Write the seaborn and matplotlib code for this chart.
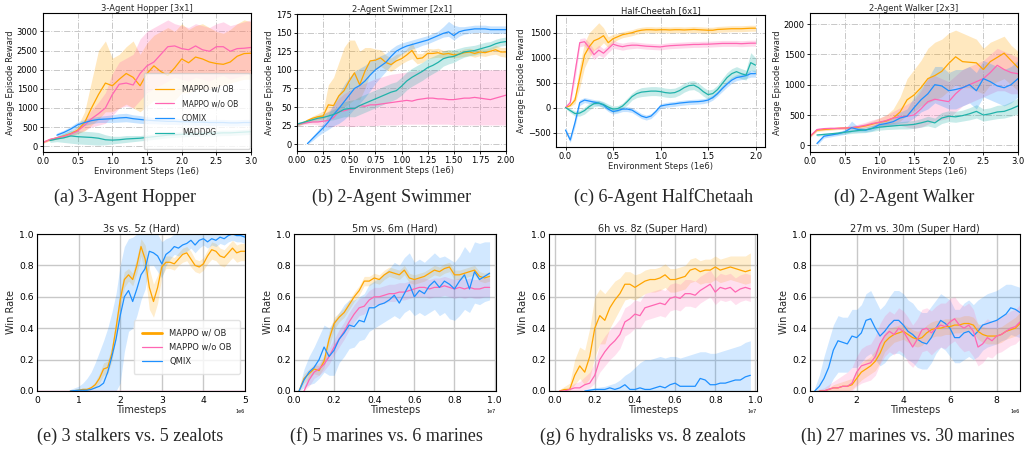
import numpy as np
import pandas as pd
import matplotlib
matplotlib.use("Agg")
import matplotlib.pyplot as plt
import seaborn as sns

nan = np.nan

ORANGE = "#FFA500"
PINK = "#FF66B3"
BLUE = "#1E90FF"
TEAL = "#20B2AA"

# ---------------- top row (MuJoCo), steps in 1e6 ----------------
hop_x = np.linspace(0, 3.0, 31)
hop_ob = [100, 170, 220, 270, 330, 420, 620, 1000, 1350, 1650, 1580, 1750, 1900, 1800, 1580, 1900, 2100, 1950, 1850, 2050, 2280, 2180, 2330, 2280, 2200, 2160, 2140, 2200, 2350, 2420, 2430]
hop_ob_lo = [80, 140, 190, 230, 280, 330, 400, 550, 700, 900, 900, 1000, 1100, 1000, 900, 1050, 1200, 1150, 1100, 1200, 1400, 1400, 1500, 1500, 1500, 1550, 1600, 1650, 1700, 1750, 1750]
hop_ob_hi = [120, 200, 250, 310, 380, 520, 900, 1700, 2500, 2750, 2300, 2400, 2600, 2750, 2400, 2700, 2900, 3000, 3100, 3000, 3200, 3050, 3150, 3200, 3100, 3000, 2950, 3050, 3200, 3300, 3250]
hop_wo = [100, 180, 220, 260, 320, 400, 550, 720, 850, 1000, 1350, 1620, 1650, 1600, 1900, 2100, 2200, 2400, 2600, 2620, 2550, 2520, 2620, 2520, 2480, 2600, 2600, 2480, 2550, 2560, 2580]
hop_wo_lo = [80, 150, 190, 220, 270, 330, 420, 500, 550, 600, 800, 1000, 1050, 1000, 1200, 1400, 1500, 1600, 1700, 1800, 1750, 1700, 1800, 1750, 1700, 1800, 1850, 1750, 1800, 1850, 1900]
hop_wo_hi = [120, 210, 250, 300, 370, 480, 700, 950, 1150, 1400, 1900, 2200, 2300, 2400, 2800, 3000, 3100, 3200, 3300, 3200, 3150, 3100, 3200, 3150, 3100, 3200, 3250, 3150, 3200, 3250, 3300]
hop_comix = [nan, nan, 290, 360, 450, 560, 620, 670, 700, 710, 720, 740, 750, 720, 700, 680, 670, 660, 650, 650, 640, 640, 630, 630, 620, 620, 620, 610, 610, 620, 620]
hop_comix_lo = [nan, nan, 230, 300, 380, 480, 540, 590, 620, 620, 620, 630, 640, 620, 600, 590, 590, 580, 570, 570, 560, 560, 550, 550, 540, 540, 540, 530, 530, 540, 540]
hop_comix_hi = [nan, nan, 350, 420, 520, 640, 700, 750, 780, 800, 820, 850, 860, 820, 800, 770, 750, 740, 730, 730, 720, 720, 710, 710, 700, 700, 700, 690, 690, 700, 700]
hop_maddpg = [nan, 150, 190, 220, 270, 250, 240, 230, 210, 170, 160, 170, 190, 200, 210, 230, 250, 270, 290, 300, 310, 320, 330, 330, 340, 340, 350, 350, 360, 370, 380]
hop_maddpg_lo = [nan, 100, 120, 100, 80, 60, 50, 40, 30, 40, 60, 80, 100, 120, 140, 160, 180, 200, 220, 230, 240, 250, 260, 260, 270, 270, 280, 280, 290, 300, 310]
hop_maddpg_hi = [nan, 200, 260, 340, 420, 400, 390, 380, 360, 300, 260, 260, 280, 280, 280, 300, 320, 340, 360, 370, 380, 390, 400, 400, 410, 410, 420, 420, 430, 440, 450]

swim_x = np.linspace(0, 2.0, 41)
swim_ob = [27, 28, 32, 35, 37, 38, 53, 52, 65, 72, 85, 96, 80, 98, 112, 113, 116, 110, 107, 112, 115, 120, 126, 115, 116, 122, 122, 123, 121, 122, 120, 121, 123, 124, 122, 124, 123, 125, 127, 124, 124]
swim_ob_lo = [25, 27, 30, 32, 33, 34, 38, 40, 45, 50, 55, 60, 60, 75, 95, 100, 105, 100, 98, 103, 108, 112, 115, 108, 110, 115, 116, 117, 116, 117, 116, 117, 118, 119, 117, 119, 118, 120, 121, 118, 117]
swim_ob_hi = [29, 30, 34, 38, 41, 45, 80, 90, 110, 130, 140, 140, 125, 130, 130, 128, 127, 120, 116, 121, 122, 128, 137, 122, 122, 129, 128, 129, 126, 127, 124, 125, 128, 129, 127, 129, 128, 130, 133, 130, 130]
swim_wo = [27, 28, 29, 30, 30, 31, 32, 36, 44, 45, 47, 48, 52, 51, 53, 53, 54, 55, 56, 57, 58, 59, 58, 60, 61, 62, 62, 61, 61, 60, 60, 61, 62, 62, 63, 62, 61, 60, 62, 64, 66]
swim_wo_lo = [25, 26, 27, 27, 26, 24, 23, 24, 25, 25, 24, 24, 25, 25, 25, 25, 26, 26, 26, 26, 27, 27, 27, 27, 27, 27, 27, 27, 27, 27, 26, 26, 26, 26, 26, 26, 26, 26, 26, 26, 26]
swim_wo_hi = [29, 31, 32, 34, 36, 40, 45, 52, 62, 68, 72, 75, 80, 82, 85, 88, 90, 92, 94, 95, 96, 97, 98, 99, 100, 100, 100, 100, 100, 100, 100, 100, 100, 100, 100, 100, 100, 100, 100, 100, 100]
swim_comix = [nan, nan, 1, 8, 15, 22, 30, 40, 48, 57, 66, 75, 79, 85, 93, 100, 105, 110, 118, 125, 129, 132, 134, 136, 138, 140, 143, 146, 149, 151, 146, 151, 153, 154, 155, 155, 155, 154, 154, 154, 154]
swim_comix_lo = [nan, nan, 0, 5, 11, 16, 20, 25, 28, 33, 40, 48, 55, 63, 72, 82, 90, 98, 106, 115, 121, 125, 128, 130, 133, 135, 138, 141, 144, 145, 140, 145, 148, 149, 150, 150, 150, 149, 149, 149, 149]
swim_comix_hi = [nan, nan, 2, 11, 19, 28, 40, 55, 68, 80, 90, 98, 102, 106, 112, 116, 119, 122, 128, 133, 136, 138, 140, 142, 144, 146, 149, 152, 158, 165, 160, 158, 158, 159, 160, 160, 160, 159, 159, 159, 159]
swim_maddpg = [27, 29, 31, 33, 35, 36, 38, 40, 43, 47, 48, 48, 52, 55, 58, 61, 64, 67, 70, 72, 78, 85, 90, 94, 98, 103, 106, 110, 115, 117, 118, 121, 124, 125, 126, 128, 130, 132, 135, 137, 138]
swim_maddpg_lo = [25, 27, 29, 30, 31, 31, 32, 33, 35, 37, 37, 37, 40, 43, 46, 49, 52, 55, 58, 61, 66, 73, 78, 82, 86, 91, 95, 99, 105, 108, 110, 114, 117, 119, 120, 122, 124, 127, 130, 132, 133]
swim_maddpg_hi = [29, 31, 33, 36, 39, 41, 44, 47, 51, 57, 59, 60, 64, 67, 70, 73, 76, 79, 82, 84, 90, 97, 102, 106, 110, 115, 118, 121, 125, 127, 127, 129, 131, 132, 133, 135, 137, 138, 141, 143, 144]

chee_x = np.linspace(0, 2.0, 41)
chee_ob = [0, 40, 150, 600, 1050, 1220, 1340, 1380, 1440, 1300, 1380, 1420, 1460, 1480, 1500, 1530, 1550, 1560, 1560, 1555, 1560, 1560, 1555, 1560, 1560, 1555, 1560, 1565, 1560, 1555, 1550, 1550, 1565, 1570, 1575, 1580, 1580, 1580, 1585, 1590, 1590]
chee_ob_lo = [0, 20, 80, 400, 800, 1000, 1150, 1200, 1300, 1200, 1300, 1360, 1400, 1420, 1440, 1470, 1490, 1500, 1500, 1495, 1500, 1500, 1495, 1500, 1500, 1495, 1500, 1505, 1500, 1495, 1490, 1490, 1505, 1510, 1515, 1520, 1520, 1520, 1525, 1530, 1530]
chee_ob_hi = [0, 60, 250, 850, 1300, 1500, 1600, 1700, 1600, 1420, 1470, 1490, 1520, 1540, 1560, 1590, 1610, 1620, 1620, 1615, 1620, 1620, 1615, 1620, 1620, 1615, 1620, 1625, 1620, 1615, 1610, 1610, 1625, 1630, 1635, 1640, 1640, 1640, 1645, 1650, 1650]
chee_wo = [0, 100, 700, 1300, 1320, 1200, 1060, 1150, 1090, 1180, 1270, 1240, 1220, 1240, 1250, 1250, 1240, 1230, 1225, 1220, 1215, 1230, 1240, 1245, 1250, 1255, 1260, 1265, 1265, 1270, 1270, 1275, 1280, 1285, 1285, 1285, 1285, 1280, 1285, 1290, 1290]
chee_wo_lo = [0, 60, 550, 1220, 1240, 1100, 960, 1050, 1000, 1100, 1190, 1170, 1150, 1170, 1180, 1190, 1180, 1170, 1165, 1160, 1155, 1170, 1180, 1185, 1190, 1195, 1200, 1205, 1205, 1210, 1210, 1215, 1220, 1225, 1225, 1225, 1225, 1220, 1225, 1230, 1230]
chee_wo_hi = [0, 140, 850, 1380, 1400, 1300, 1160, 1250, 1180, 1260, 1350, 1310, 1290, 1310, 1320, 1310, 1300, 1290, 1285, 1280, 1275, 1290, 1300, 1305, 1310, 1315, 1320, 1325, 1325, 1330, 1330, 1335, 1340, 1345, 1345, 1345, 1345, 1340, 1345, 1350, 1350]
chee_comix = [-450, -650, -300, 100, 150, 130, 110, 90, 50, -30, -80, -60, -30, -30, -50, -110, -170, -200, -170, -80, 30, 50, 65, 75, 90, 100, 110, 115, 120, 130, 150, 200, 280, 380, 470, 550, 600, 620, 640, 680, 680]
chee_comix_lo = [-500, -700, -380, 40, 100, 80, 60, 40, 0, -80, -130, -110, -80, -80, -100, -160, -220, -250, -220, -130, -20, 0, 15, 25, 40, 50, 60, 65, 70, 80, 100, 150, 230, 320, 410, 490, 540, 560, 580, 610, 610]
chee_comix_hi = [-400, -600, -220, 160, 200, 180, 160, 140, 100, 20, -30, -10, 20, 20, 0, -60, -120, -150, -120, -30, 80, 100, 115, 125, 140, 150, 160, 165, 170, 180, 200, 250, 330, 440, 530, 610, 660, 680, 700, 750, 750]
chee_maddpg = [0, -60, -120, -110, -60, 20, 80, 90, 60, 10, -30, -20, 30, 120, 220, 280, 310, 320, 330, 330, 320, 300, 290, 300, 340, 400, 440, 450, 400, 320, 260, 280, 360, 480, 600, 680, 720, 680, 650, 900, 850]
chee_maddpg_lo = [-20, -100, -170, -170, -130, -50, 20, 30, 0, -50, -90, -80, -30, 50, 150, 200, 220, 230, 240, 240, 230, 210, 200, 210, 250, 310, 350, 360, 310, 230, 170, 190, 270, 380, 500, 580, 620, 580, 550, 750, 700]
chee_maddpg_hi = [20, -20, -70, -50, 10, 90, 140, 150, 120, 70, 30, 40, 90, 190, 290, 360, 400, 410, 420, 420, 410, 390, 380, 390, 430, 490, 530, 540, 490, 410, 350, 370, 450, 580, 700, 780, 820, 780, 750, 1100, 1000]

walk_x = np.linspace(0, 3.0, 31)
walk_ob = [150, 250, 260, 270, 280, 285, 290, 300, 320, 350, 380, 400, 450, 550, 750, 830, 950, 1100, 1150, 1220, 1350, 1460, 1380, 1370, 1360, 1250, 1380, 1450, 1520, 1400, 1280]
walk_ob_lo = [130, 230, 240, 250, 260, 265, 270, 275, 290, 310, 330, 340, 360, 400, 500, 550, 650, 700, 750, 800, 900, 1000, 950, 950, 900, 850, 1000, 1050, 1100, 1000, 900]
walk_ob_hi = [170, 270, 280, 290, 300, 310, 315, 330, 360, 400, 450, 500, 600, 800, 1100, 1250, 1400, 1600, 1700, 1750, 1850, 1900, 1850, 1800, 1750, 1600, 1700, 1750, 1800, 1650, 1550]
walk_wo = [150, 260, 275, 280, 280, 285, 290, 310, 330, 360, 380, 410, 450, 470, 480, 500, 600, 720, 760, 740, 720, 850, 950, 1000, 1050, 1100, 1200, 1320, 1250, 1200, 1180]
walk_wo_lo = [130, 240, 255, 260, 260, 265, 270, 280, 290, 310, 320, 330, 340, 330, 300, 280, 300, 350, 400, 420, 450, 550, 650, 700, 750, 800, 850, 900, 900, 850, 850]
walk_wo_hi = [170, 280, 295, 300, 300, 310, 320, 350, 380, 420, 450, 500, 560, 620, 680, 750, 900, 1100, 1150, 1100, 1050, 1150, 1250, 1300, 1350, 1400, 1500, 1600, 1550, 1500, 1450]
walk_comix = [nan, 30, 150, 170, 190, 220, 290, 260, 250, 280, 340, 360, 390, 450, 480, 620, 750, 850, 1000, 980, 900, 920, 950, 1000, 900, 1100, 1050, 980, 950, 1000, 1100]
walk_comix_lo = [nan, 0, 120, 140, 160, 180, 220, 220, 220, 240, 290, 310, 330, 370, 380, 450, 550, 600, 700, 650, 600, 600, 650, 700, 600, 800, 750, 700, 650, 700, 800]
walk_comix_hi = [nan, 60, 180, 200, 220, 260, 400, 300, 280, 320, 390, 410, 450, 550, 600, 800, 950, 1100, 1300, 1300, 1200, 1250, 1250, 1300, 1200, 1400, 1350, 1300, 1250, 1300, 1400]
walk_maddpg = [nan, 170, 180, 190, 200, 215, 230, 245, 255, 280, 300, 310, 320, 330, 335, 345, 370, 400, 370, 450, 480, 470, 490, 520, 560, 500, 520, 550, 560, 600, 650]
walk_maddpg_lo = [nan, 150, 160, 170, 175, 185, 195, 205, 210, 230, 250, 260, 265, 270, 270, 280, 300, 320, 290, 360, 390, 380, 400, 420, 450, 400, 420, 440, 450, 480, 520]
walk_maddpg_hi = [nan, 190, 200, 210, 225, 245, 265, 285, 300, 330, 350, 360, 375, 390, 400, 410, 440, 480, 450, 540, 570, 560, 580, 620, 670, 600, 620, 660, 670, 720, 780]

# ---------------- bottom row (SMAC win rates) ----------------
# 3s vs 5z, steps in 1e6
s3z5_x = [0.0, 0.2, 0.4, 0.6, 0.8, 1.0, 1.1, 1.2, 1.3, 1.4, 1.5, 1.6, 1.7, 1.8, 1.9, 2.0, 2.1, 2.2, 2.3, 2.4, 2.5, 2.6, 2.7, 2.8, 2.9, 3.0, 3.1, 3.2, 3.3, 3.4, 3.5, 3.6, 3.7, 3.8, 3.9, 4.0, 4.1, 4.2, 4.3, 4.4, 4.5, 4.6, 4.7, 4.8, 4.9, 5.0]
s3z5_ob = [nan, nan, nan, nan, 0.0, 0.005, 0.01, 0.01, 0.02, 0.04, 0.08, 0.14, 0.15, 0.24, 0.40, 0.58, 0.71, 0.74, 0.71, 0.80, 0.92, 0.84, 0.66, 0.57, 0.66, 0.79, 0.82, 0.82, 0.81, 0.84, 0.87, 0.88, 0.84, 0.80, 0.79, 0.81, 0.86, 0.90, 0.89, 0.86, 0.85, 0.88, 0.91, 0.88, 0.89, 0.89]
s3z5_ob_lo = [nan, nan, nan, nan, 0.0, 0.0, 0.0, 0.0, 0.01, 0.02, 0.05, 0.10, 0.11, 0.19, 0.34, 0.52, 0.66, 0.70, 0.67, 0.75, 0.86, 0.74, 0.52, 0.47, 0.56, 0.73, 0.78, 0.78, 0.77, 0.80, 0.82, 0.83, 0.79, 0.76, 0.75, 0.77, 0.81, 0.84, 0.83, 0.80, 0.79, 0.82, 0.85, 0.82, 0.83, 0.83]
s3z5_ob_hi = [nan, nan, nan, nan, 0.0, 0.01, 0.02, 0.02, 0.03, 0.06, 0.11, 0.18, 0.19, 0.29, 0.46, 0.64, 0.76, 0.78, 0.75, 0.85, 0.97, 0.93, 0.78, 0.68, 0.74, 0.84, 0.86, 0.86, 0.85, 0.88, 0.91, 0.92, 0.89, 0.84, 0.83, 0.85, 0.90, 0.95, 0.94, 0.91, 0.90, 0.93, 0.96, 0.93, 0.94, 0.94]
s3z5_wo_x = [0.0, 5.0]
s3z5_wo = [0.0, 0.0]
s3z5_qmix = [nan, nan, nan, nan, 0.0, 0.005, 0.005, 0.005, 0.01, 0.02, 0.03, 0.05, 0.12, 0.22, 0.33, 0.48, 0.60, 0.64, 0.57, 0.65, 0.74, 0.78, 0.89, 0.88, 0.86, 0.81, 0.87, 0.89, 0.92, 0.91, 0.93, 0.94, 0.96, 0.93, 0.96, 0.97, 0.95, 0.97, 0.96, 0.98, 0.97, 0.99, 1.0, 0.99, 0.99, 0.98]
s3z5_qmix_lo = [nan, nan, nan, nan, 0.0, 0.0, 0.0, 0.0, 0.0, 0.0, 0.0, 0.0, 0.0, 0.0, 0.0, 0.05, 0.25, 0.38, 0.40, 0.48, 0.58, 0.65, 0.80, 0.80, 0.76, 0.72, 0.80, 0.84, 0.87, 0.86, 0.88, 0.89, 0.91, 0.88, 0.91, 0.93, 0.91, 0.93, 0.92, 0.94, 0.93, 0.95, 0.96, 0.95, 0.95, 0.94]
s3z5_qmix_hi = [nan, nan, nan, nan, 0.01, 0.03, 0.05, 0.08, 0.12, 0.18, 0.25, 0.32, 0.40, 0.50, 0.62, 0.80, 0.92, 0.97, 0.98, 1.0, 1.0, 1.0, 1.0, 1.0, 1.0, 0.95, 0.97, 0.98, 1.0, 1.0, 1.0, 1.0, 1.0, 1.0, 1.0, 1.0, 1.0, 1.0, 1.0, 1.0, 1.0, 1.0, 1.0, 1.0, 1.0, 1.0]

# 5m vs 6m and 6h vs 8z, steps in 1e7
m5m6_x = np.linspace(0, 0.975, 40)
m5m6_ob = [nan, 0.0, 0.08, 0.11, 0.14, 0.13, 0.19, 0.33, 0.43, 0.47, 0.50, 0.55, 0.60, 0.64, 0.70, 0.70, 0.72, 0.71, 0.74, 0.76, 0.75, 0.74, 0.77, 0.72, 0.71, 0.72, 0.73, 0.75, 0.77, 0.76, 0.78, 0.79, 0.74, 0.74, 0.75, 0.76, 0.77, 0.73, 0.72, 0.73]
m5m6_ob_lo = [nan, 0.0, 0.05, 0.08, 0.11, 0.10, 0.15, 0.28, 0.39, 0.44, 0.47, 0.52, 0.57, 0.61, 0.67, 0.67, 0.69, 0.68, 0.71, 0.73, 0.72, 0.71, 0.74, 0.69, 0.68, 0.69, 0.70, 0.72, 0.74, 0.73, 0.75, 0.76, 0.71, 0.71, 0.72, 0.73, 0.74, 0.70, 0.69, 0.70]
m5m6_ob_hi = [nan, 0.01, 0.11, 0.14, 0.17, 0.16, 0.23, 0.38, 0.47, 0.50, 0.53, 0.58, 0.63, 0.67, 0.73, 0.73, 0.75, 0.74, 0.77, 0.79, 0.78, 0.77, 0.80, 0.75, 0.74, 0.75, 0.76, 0.78, 0.80, 0.79, 0.81, 0.82, 0.77, 0.77, 0.78, 0.79, 0.80, 0.76, 0.75, 0.76]
m5m6_wo = [nan, nan, 0.0, 0.07, 0.12, 0.14, 0.17, 0.22, 0.28, 0.33, 0.38, 0.44, 0.49, 0.53, 0.54, 0.58, 0.60, 0.60, 0.61, 0.62, 0.62, 0.63, 0.63, 0.64, 0.65, 0.66, 0.66, 0.65, 0.66, 0.66, 0.67, 0.66, 0.65, 0.66, 0.65, 0.66, 0.65, 0.65, 0.66, 0.66]
m5m6_wo_lo = [nan, nan, 0.0, 0.03, 0.08, 0.10, 0.13, 0.17, 0.23, 0.28, 0.33, 0.39, 0.44, 0.48, 0.49, 0.53, 0.55, 0.55, 0.56, 0.57, 0.57, 0.58, 0.58, 0.59, 0.60, 0.60, 0.60, 0.59, 0.60, 0.60, 0.61, 0.60, 0.59, 0.60, 0.59, 0.60, 0.59, 0.59, 0.60, 0.60]
m5m6_wo_hi = [nan, nan, 0.03, 0.11, 0.16, 0.18, 0.21, 0.27, 0.33, 0.39, 0.44, 0.50, 0.55, 0.59, 0.60, 0.64, 0.66, 0.66, 0.67, 0.68, 0.68, 0.69, 0.69, 0.70, 0.71, 0.72, 0.72, 0.71, 0.72, 0.72, 0.73, 0.72, 0.71, 0.72, 0.71, 0.72, 0.71, 0.71, 0.72, 0.72]
m5m6_qmix = [nan, 0.0, 0.07, 0.12, 0.15, 0.20, 0.28, 0.22, 0.26, 0.33, 0.37, 0.42, 0.41, 0.45, 0.44, 0.53, 0.53, 0.55, 0.56, 0.58, 0.61, 0.56, 0.62, 0.68, 0.60, 0.64, 0.62, 0.67, 0.70, 0.66, 0.70, 0.68, 0.65, 0.70, 0.74, 0.65, 0.76, 0.71, 0.73, 0.75]
m5m6_qmix_lo = [nan, 0.0, 0.02, 0.04, 0.05, 0.08, 0.12, 0.10, 0.10, 0.18, 0.22, 0.27, 0.28, 0.32, 0.33, 0.38, 0.40, 0.42, 0.44, 0.46, 0.48, 0.46, 0.50, 0.52, 0.48, 0.50, 0.48, 0.50, 0.52, 0.48, 0.50, 0.46, 0.45, 0.48, 0.52, 0.50, 0.56, 0.55, 0.57, 0.58]
m5m6_qmix_hi = [nan, 0.02, 0.14, 0.22, 0.28, 0.35, 0.42, 0.40, 0.45, 0.50, 0.55, 0.58, 0.58, 0.60, 0.62, 0.68, 0.70, 0.72, 0.75, 0.78, 0.82, 0.80, 0.85, 0.88, 0.82, 0.84, 0.82, 0.85, 0.88, 0.85, 0.86, 0.84, 0.82, 0.86, 0.92, 0.88, 0.95, 0.94, 0.95, 0.95]

h6z8_x = np.linspace(0, 0.975, 40)
h6z8_ob = [nan, 0.0, 0.01, 0.01, 0.10, 0.16, 0.12, 0.22, 0.40, 0.48, 0.45, 0.53, 0.58, 0.62, 0.68, 0.68, 0.66, 0.68, 0.70, 0.71, 0.71, 0.72, 0.74, 0.71, 0.71, 0.72, 0.73, 0.77, 0.78, 0.76, 0.77, 0.77, 0.79, 0.77, 0.78, 0.79, 0.78, 0.77, 0.76, 0.77]
h6z8_ob_lo = [nan, 0.0, 0.0, 0.0, 0.04, 0.08, 0.04, 0.08, 0.22, 0.30, 0.30, 0.40, 0.46, 0.52, 0.58, 0.59, 0.58, 0.60, 0.62, 0.63, 0.63, 0.64, 0.66, 0.63, 0.63, 0.64, 0.65, 0.69, 0.70, 0.68, 0.69, 0.69, 0.71, 0.69, 0.70, 0.71, 0.70, 0.69, 0.68, 0.69]
h6z8_ob_hi = [nan, 0.01, 0.03, 0.05, 0.20, 0.28, 0.26, 0.40, 0.60, 0.65, 0.62, 0.66, 0.70, 0.72, 0.76, 0.76, 0.74, 0.75, 0.77, 0.78, 0.78, 0.79, 0.81, 0.78, 0.78, 0.79, 0.80, 0.84, 0.85, 0.83, 0.84, 0.84, 0.86, 0.84, 0.85, 0.86, 0.86, 0.86, 0.86, 0.88]
h6z8_wo = [nan, 0.0, 0.0, 0.01, 0.02, 0.02, 0.04, 0.05, 0.10, 0.20, 0.25, 0.29, 0.32, 0.36, 0.44, 0.46, 0.49, 0.48, 0.53, 0.54, 0.55, 0.56, 0.55, 0.59, 0.60, 0.59, 0.62, 0.62, 0.61, 0.64, 0.66, 0.68, 0.63, 0.66, 0.65, 0.66, 0.63, 0.65, 0.66, 0.65]
h6z8_wo_lo = [nan, 0.0, 0.0, 0.0, 0.0, 0.0, 0.01, 0.02, 0.05, 0.12, 0.16, 0.20, 0.23, 0.27, 0.35, 0.37, 0.40, 0.40, 0.45, 0.46, 0.47, 0.48, 0.47, 0.51, 0.52, 0.51, 0.54, 0.54, 0.53, 0.56, 0.58, 0.60, 0.55, 0.58, 0.57, 0.58, 0.55, 0.57, 0.58, 0.57]
h6z8_wo_hi = [nan, 0.01, 0.01, 0.03, 0.05, 0.06, 0.09, 0.12, 0.18, 0.30, 0.35, 0.39, 0.42, 0.46, 0.53, 0.55, 0.58, 0.57, 0.62, 0.63, 0.64, 0.65, 0.64, 0.68, 0.69, 0.68, 0.71, 0.71, 0.70, 0.73, 0.75, 0.77, 0.72, 0.75, 0.74, 0.75, 0.72, 0.74, 0.75, 0.74]
h6z8_qmix = [nan, nan, nan, nan, nan, nan, 0.0, 0.005, 0.01, 0.01, 0.01, 0.02, 0.01, 0.02, 0.04, 0.01, 0.01, 0.02, 0.01, 0.01, 0.02, 0.03, 0.02, 0.04, 0.05, 0.03, 0.03, 0.03, 0.03, 0.08, 0.07, 0.04, 0.04, 0.05, 0.05, 0.06, 0.07, 0.07, 0.09, 0.10]
h6z8_qmix_lo = [nan, nan, nan, nan, nan, nan, 0.0, 0.0, 0.0, 0.0, 0.0, 0.0, 0.0, 0.0, 0.0, 0.0, 0.0, 0.0, 0.0, 0.0, 0.0, 0.0, 0.0, 0.0, 0.0, 0.0, 0.0, 0.0, 0.0, 0.0, 0.0, 0.0, 0.0, 0.0, 0.0, 0.0, 0.0, 0.0, 0.0, 0.0]
h6z8_qmix_hi = [nan, nan, nan, nan, nan, nan, 0.01, 0.015, 0.02, 0.025, 0.03, 0.04, 0.05, 0.07, 0.10, 0.12, 0.15, 0.18, 0.20, 0.20, 0.21, 0.22, 0.21, 0.22, 0.22, 0.21, 0.22, 0.23, 0.24, 0.25, 0.25, 0.24, 0.24, 0.25, 0.26, 0.27, 0.28, 0.29, 0.31, 0.32]

# 27m vs 30m, steps in 1e6
m27_x = np.linspace(0, 9.0, 46)
m27_ob = [nan, nan, 0.0, 0.0, 0.01, 0.02, 0.02, 0.03, 0.03, 0.04, 0.08, 0.12, 0.14, 0.16, 0.19, 0.24, 0.31, 0.34, 0.36, 0.37, 0.38, 0.36, 0.34, 0.33, 0.34, 0.37, 0.39, 0.40, 0.40, 0.41, 0.41, 0.42, 0.42, 0.43, 0.43, 0.42, 0.38, 0.36, 0.35, 0.35, 0.35, 0.36, 0.38, 0.39, 0.40, 0.43]
m27_ob_lo = [nan, nan, 0.0, 0.0, 0.0, 0.0, 0.0, 0.0, 0.0, 0.01, 0.04, 0.07, 0.09, 0.11, 0.13, 0.18, 0.25, 0.28, 0.31, 0.32, 0.33, 0.31, 0.29, 0.28, 0.29, 0.32, 0.34, 0.35, 0.35, 0.36, 0.36, 0.37, 0.37, 0.38, 0.38, 0.37, 0.33, 0.31, 0.30, 0.30, 0.30, 0.31, 0.33, 0.34, 0.35, 0.37]
m27_ob_hi = [nan, nan, 0.01, 0.01, 0.02, 0.04, 0.05, 0.06, 0.07, 0.08, 0.13, 0.18, 0.20, 0.22, 0.26, 0.31, 0.37, 0.40, 0.41, 0.42, 0.43, 0.41, 0.39, 0.38, 0.39, 0.42, 0.44, 0.45, 0.45, 0.46, 0.46, 0.47, 0.47, 0.48, 0.48, 0.47, 0.43, 0.41, 0.40, 0.40, 0.40, 0.41, 0.43, 0.45, 0.47, 0.50]
m27_wo = [nan, nan, 0.0, 0.0, 0.01, 0.02, 0.02, 0.03, 0.03, 0.05, 0.12, 0.16, 0.17, 0.18, 0.22, 0.30, 0.35, 0.38, 0.36, 0.40, 0.38, 0.33, 0.28, 0.33, 0.39, 0.40, 0.37, 0.40, 0.42, 0.41, 0.44, 0.46, 0.42, 0.40, 0.42, 0.38, 0.28, 0.30, 0.34, 0.32, 0.35, 0.36, 0.38, 0.40, 0.41, 0.44]
m27_wo_lo = [nan, nan, 0.0, 0.0, 0.0, 0.0, 0.0, 0.0, 0.0, 0.0, 0.03, 0.05, 0.06, 0.07, 0.10, 0.17, 0.22, 0.25, 0.23, 0.26, 0.24, 0.18, 0.15, 0.19, 0.25, 0.26, 0.23, 0.26, 0.28, 0.27, 0.30, 0.32, 0.28, 0.25, 0.26, 0.22, 0.16, 0.18, 0.22, 0.21, 0.24, 0.25, 0.27, 0.29, 0.30, 0.33]
m27_wo_hi = [nan, nan, 0.01, 0.02, 0.04, 0.06, 0.08, 0.10, 0.12, 0.15, 0.22, 0.27, 0.29, 0.30, 0.35, 0.43, 0.48, 0.51, 0.49, 0.53, 0.51, 0.47, 0.42, 0.46, 0.52, 0.53, 0.51, 0.54, 0.56, 0.56, 0.59, 0.60, 0.56, 0.54, 0.56, 0.52, 0.42, 0.43, 0.46, 0.44, 0.46, 0.47, 0.49, 0.51, 0.52, 0.55]
m27_qmix = [nan, 0.0, 0.03, 0.08, 0.15, 0.26, 0.32, 0.31, 0.30, 0.35, 0.34, 0.37, 0.45, 0.46, 0.40, 0.35, 0.38, 0.42, 0.45, 0.45, 0.42, 0.38, 0.36, 0.33, 0.31, 0.30, 0.34, 0.40, 0.45, 0.43, 0.40, 0.34, 0.34, 0.37, 0.38, 0.35, 0.38, 0.42, 0.43, 0.44, 0.45, 0.47, 0.49, 0.53, 0.52, 0.50]
m27_qmix_lo = [nan, 0.0, 0.0, 0.0, 0.02, 0.08, 0.12, 0.12, 0.12, 0.15, 0.15, 0.18, 0.22, 0.24, 0.20, 0.16, 0.18, 0.22, 0.24, 0.24, 0.22, 0.20, 0.18, 0.15, 0.14, 0.14, 0.18, 0.24, 0.28, 0.26, 0.22, 0.18, 0.18, 0.20, 0.22, 0.20, 0.22, 0.26, 0.28, 0.29, 0.30, 0.32, 0.33, 0.36, 0.35, 0.34]
m27_qmix_hi = [nan, 0.02, 0.10, 0.22, 0.32, 0.42, 0.48, 0.47, 0.47, 0.52, 0.52, 0.55, 0.62, 0.64, 0.58, 0.52, 0.55, 0.60, 0.64, 0.64, 0.62, 0.58, 0.56, 0.52, 0.50, 0.50, 0.54, 0.58, 0.62, 0.60, 0.58, 0.52, 0.52, 0.56, 0.58, 0.55, 0.58, 0.60, 0.62, 0.63, 0.64, 0.66, 0.68, 0.68, 0.67, 0.66]


def curve(ax, x, y, lo, hi, color, label, scale=1.0, alpha=0.25, lw=0.9):
    df = pd.DataFrame({"step": np.asarray(x, dtype=float) * scale, "value": y,
                       "lo": lo, "hi": hi}).dropna()
    ax.fill_between(df["step"], df["lo"], df["hi"], color=color, alpha=alpha, linewidth=0)
    sns.lineplot(data=df, x="step", y="value", ax=ax, color=color, linewidth=lw,
                 label=label, legend=False, errorbar=None)


sns.set_theme(style="white")
plt.rcParams["font.family"] = ["DejaVu Sans"]

W, H = 1026, 449
fig = plt.figure(figsize=(W / 100, H / 100), dpi=100)


def px_axes(l, t, r, b):
    return fig.add_axes([l / W, 1 - b / H, (r - l) / W, (b - t) / H])


def style_top(ax, title, xticks, yticks, xlim, ylim):
    ax.set_title(title, fontsize=6, pad=1.5)
    ax.set_xlim(xlim)
    ax.set_ylim(ylim)
    ax.set_xticks(xticks)
    ax.set_yticks(yticks)
    ax.grid(True, linestyle="-.", color="#c8c8c8", linewidth=0.7)
    ax.tick_params(labelsize=6, length=2.5, width=0.6, pad=1.2, bottom=True, left=True, colors="black")
    ax.set_xlabel("Environment Steps (1e6)", fontsize=6, labelpad=0.5)
    ax.set_ylabel("Average Episode Reward", fontsize=6, labelpad=1.5)
    for s in ax.spines.values():
        s.set_color("black")
        s.set_linewidth(0.8)


def style_bottom(ax, title, xticks, xlim):
    ax.set_title(title, fontsize=7, pad=1.5)
    ax.set_xlim(xlim)
    ax.set_ylim(0, 1.0)
    ax.set_xticks(xticks)
    ax.set_yticks([0.0, 0.2, 0.4, 0.6, 0.8, 1.0])
    ax.grid(True, linestyle="-", color="#c8c8c8", linewidth=1.0)
    ax.tick_params(labelsize=6.7, length=0, colors="black")
    ax.tick_params(axis="x", pad=3.5)
    ax.tick_params(axis="y", pad=2.5)
    ax.xaxis.get_offset_text().set_fontsize(3.5)
    ax.set_xlabel("Timesteps", fontsize=7, labelpad=0)
    ax.set_ylabel("Win Rate", fontsize=7, labelpad=2)
    for s in ax.spines.values():
        s.set_color("black")
        s.set_linewidth(0.8)


# (a) Hopper
ax = px_axes(43, 13, 251, 152)
curve(ax, hop_x, hop_ob, hop_ob_lo, hop_ob_hi, ORANGE, "MAPPO w/ OB")
curve(ax, hop_x, hop_wo, hop_wo_lo, hop_wo_hi, PINK, "MAPPO w/o OB")
curve(ax, hop_x, hop_comix, hop_comix_lo, hop_comix_hi, BLUE, "COMIX")
curve(ax, hop_x, hop_maddpg, hop_maddpg_lo, hop_maddpg_hi, TEAL, "MADDPG")
style_top(ax, "3-Agent Hopper [3x1]", [0, 0.5, 1.0, 1.5, 2.0, 2.5, 3.0],
          [0, 500, 1000, 1500, 2000, 2500, 3000], (0, 3.0), (-150, 3480))
ax.legend(loc="lower right", bbox_to_anchor=(0.993, 0.022), borderaxespad=0, fontsize=5.5,
          borderpad=1.5, labelspacing=0.75, handlelength=2.5, handletextpad=1.0,
          framealpha=0.8, edgecolor="#cccccc")

# (b) Swimmer
ax = px_axes(297, 14, 506, 151)
curve(ax, swim_x, swim_ob, swim_ob_lo, swim_ob_hi, ORANGE, "MAPPO w/ OB")
curve(ax, swim_x, swim_wo, swim_wo_lo, swim_wo_hi, PINK, "MAPPO w/o OB")
curve(ax, swim_x, swim_comix, swim_comix_lo, swim_comix_hi, BLUE, "COMIX")
curve(ax, swim_x, swim_maddpg, swim_maddpg_lo, swim_maddpg_hi, TEAL, "MADDPG")
style_top(ax, "2-Agent Swimmer [2x1]", [0, 0.25, 0.5, 0.75, 1.0, 1.25, 1.5, 1.75, 2.0],
          [0, 25, 50, 75, 100, 125, 150, 175], (0, 2.0), (-9, 175))

# (c) HalfCheetah
ax = px_axes(556, 15, 765, 147)
curve(ax, chee_x, chee_ob, chee_ob_lo, chee_ob_hi, ORANGE, "MAPPO w/ OB")
curve(ax, chee_x, chee_wo, chee_wo_lo, chee_wo_hi, PINK, "MAPPO w/o OB")
curve(ax, chee_x, chee_comix, chee_comix_lo, chee_comix_hi, BLUE, "COMIX")
curve(ax, chee_x, chee_maddpg, chee_maddpg_lo, chee_maddpg_hi, TEAL, "MADDPG")
style_top(ax, "Half-Cheetah [6x1]", [0, 0.5, 1.0, 1.5, 2.0],
          [-500, 0, 500, 1000, 1500], (-0.1, 2.1), (-790, 1855))

# (d) Walker
ax = px_axes(810, 13, 1018, 152)
curve(ax, walk_x, walk_ob, walk_ob_lo, walk_ob_hi, ORANGE, "MAPPO w/ OB")
curve(ax, walk_x, walk_wo, walk_wo_lo, walk_wo_hi, PINK, "MAPPO w/o OB")
curve(ax, walk_x, walk_comix, walk_comix_lo, walk_comix_hi, BLUE, "COMIX")
curve(ax, walk_x, walk_maddpg, walk_maddpg_lo, walk_maddpg_hi, TEAL, "MADDPG")
style_top(ax, "2-Agent Walker [2x3]", [0, 0.5, 1.0, 1.5, 2.0, 2.5, 3.0],
          [0, 500, 1000, 1500, 2000], (0, 3.0), (-110, 2182))

# (e) 3s vs 5z
ax = px_axes(37, 234, 245, 391)
curve(ax, s3z5_x, s3z5_ob, s3z5_ob_lo, s3z5_ob_hi, ORANGE, "MAPPO w/ OB", 1e6, 0.2)
curve(ax, s3z5_wo_x, s3z5_wo, s3z5_wo, s3z5_wo, PINK, "MAPPO w/o OB", 1e6, 0.2)
curve(ax, s3z5_x, s3z5_qmix, s3z5_qmix_lo, s3z5_qmix_hi, BLUE, "QMIX", 1e6, 0.2)
style_bottom(ax, "3s vs. 5z (Hard)", [0, 1e6, 2e6, 3e6, 4e6, 5e6], (0, 5e6))
leg = ax.legend(loc="lower right", bbox_to_anchor=(0.976, 0.108), borderaxespad=0, fontsize=6,
                borderpad=1.0, labelspacing=0.6, handlelength=2.4, handletextpad=0.85,
                framealpha=0.8, edgecolor="#dddddd")
leg.get_lines()[0].set_linewidth(2.0)

# (f) 5m vs 6m
ax = px_axes(294, 234, 496, 391)
curve(ax, m5m6_x, m5m6_ob, m5m6_ob_lo, m5m6_ob_hi, ORANGE, "MAPPO w/ OB", 1e7, 0.2)
curve(ax, m5m6_x, m5m6_wo, m5m6_wo_lo, m5m6_wo_hi, PINK, "MAPPO w/o OB", 1e7, 0.2)
curve(ax, m5m6_x, m5m6_qmix, m5m6_qmix_lo, m5m6_qmix_hi, BLUE, "QMIX", 1e7, 0.2)
style_bottom(ax, "5m vs. 6m (Hard)", [0, 2e6, 4e6, 6e6, 8e6, 1e7], (0, 1.007e7))

# (g) 6h vs 8z
ax = px_axes(549, 234, 757, 391)
curve(ax, h6z8_x, h6z8_ob, h6z8_ob_lo, h6z8_ob_hi, ORANGE, "MAPPO w/ OB", 1e7, 0.2)
curve(ax, h6z8_x, h6z8_wo, h6z8_wo_lo, h6z8_wo_hi, PINK, "MAPPO w/o OB", 1e7, 0.2)
curve(ax, h6z8_x, h6z8_qmix, h6z8_qmix_lo, h6z8_qmix_hi, BLUE, "QMIX", 1e7, 0.2)
style_bottom(ax, "6h vs. 8z (Super Hard)", [0, 2e6, 4e6, 6e6, 8e6, 1e7], (-0.028e7, 1.008e7))

# (h) 27m vs 30m
ax = px_axes(810, 234, 1020, 391)
curve(ax, m27_x, m27_qmix, m27_qmix_lo, m27_qmix_hi, BLUE, "QMIX", 1e6, 0.2)
curve(ax, m27_x, m27_ob, m27_ob_lo, m27_ob_hi, ORANGE, "MAPPO w/ OB", 1e6, 0.2)
curve(ax, m27_x, m27_wo, m27_wo_lo, m27_wo_hi, PINK, "MAPPO w/o OB", 1e6, 0.2)
style_bottom(ax, "27m vs. 30m (Super Hard)", [0, 2e6, 4e6, 6e6, 8e6], (0, 9e6))

# sub-captions
captions = [
    ("(a) 3-Agent Hopper", 125, 197), ("(b) 2-Agent Swimmer", 392, 197),
    ("(c) 6-Agent HalfChetaah", 664, 197), ("(d) 2-Agent Walker", 904, 197),
    ("(e) 3 stalkers vs. 5 zealots", 130, 436), ("(f) 5 marines vs. 6 marines", 386, 436),
    ("(g) 6 hydralisks vs. 8 zealots", 643, 436), ("(h) 27 marines vs. 30 marines", 908, 436),
]
for text, cx, cy in captions:
    fig.text(cx / W, 1 - cy / H, text, ha="center", va="center", fontsize=13,
             family=["Liberation Serif", "DejaVu Serif"])

fig.savefig("out.png", dpi=100)
